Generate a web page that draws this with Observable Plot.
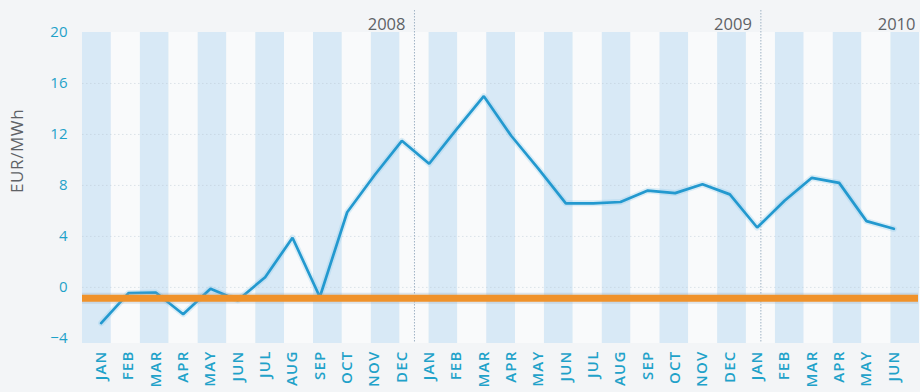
<!DOCTYPE html>
<html>
<head>
<meta charset="utf-8">
<script src="https://cdn.jsdelivr.net/npm/d3@7"></script>
<script src="https://cdn.jsdelivr.net/npm/@observablehq/plot@0.6"></script>
<style>
  html, body { margin: 0; padding: 0; background: #f3f5f7; }
  #chart { position: relative; width: 920px; height: 392px; overflow: hidden; background: #f3f5f7; font-family: "Open Sans", sans-serif; }
  #chart svg { position: absolute; left: 0; top: 0; }
  #chart g[aria-label="x-axis tick label"] text { letter-spacing: 1.2px; }
  #chart .ylab text { letter-spacing: 0.6px; }
</style>
</head>
<body>
<div id="chart"></div>
<script>
// ---- data ----
const months = ["JAN","FEB","MAR","APR","MAY","JUN","JUL","AUG","SEP","OCT","NOV","DEC",
                "JAN","FEB","MAR","APR","MAY","JUN","JUL","AUG","SEP","OCT","NOV","DEC",
                "JAN","FEB","MAR","APR","MAY","JUN"];
const values = [-2.8, -0.45, -0.4, -2.1, -0.1, -1.0, 0.8, 3.9, -0.75, 5.9, 8.8, 11.5,
                9.7, 12.4, 15.0, 11.9, 9.3, 6.6, 6.6, 6.7, 7.6, 7.4, 8.1, 7.3,
                4.7, 6.8, 8.6, 8.2, 5.2, 4.6];
const baseline = [-0.85];
const yTicks = [-4, 0, 4, 8, 12, 16, 20];
const yDomain = [-4.4, 20];
const yearLabels = ["2008", "2009"];
const yearEndIndex = [11, 23];
const lastYearLabel = ["2010"];
const yLabel = ["EUR/MWh"];

// ---- styles ----
const teal = "#1fa2c9";
const lineBlue = "#2399cf";
const orange = "#f0922a";
const grey = "#5e6266";
const blueBand = "#d8e9f6";
const paleBand = "#f9fafb";

const idx = months.map((_, i) => i);
const chart = document.getElementById("chart");

// Background bands, year separators and year labels
const bands = Plot.plot({
  width: 920, height: 392,
  marginLeft: 82, marginRight: 0, marginTop: 32, marginBottom: 49,
  x: {type: "band", domain: idx, range: [82, 948], padding: 0, round: false, axis: null},
  y: {domain: yDomain, axis: null},
  style: {background: "transparent", overflow: "visible", fontFamily: "Open Sans, sans-serif"},
  marks: [
    Plot.barY(idx.filter(i => i % 2 === 0), {x: d => d, y1: yDomain[0], y2: yDomain[1], fill: blueBand}),
    Plot.barY(idx.filter(i => i % 2 === 1), {x: d => d, y1: yDomain[0], y2: yDomain[1], fill: paleBand}),
    Plot.ruleY(yTicks.filter(t => t > -4 && t < 20), {stroke: "#b9c6d0", strokeOpacity: 0.45, strokeDasharray: "1.5,2.5"}),
    Plot.ruleX(yearEndIndex, {x: d => d, stroke: "#9fb2c4", strokeWidth: 1, strokeDasharray: "1.5,1.5", insetTop: -22}),
    Plot.text(yearLabels, {x: (d, i) => yearEndIndex[i], text: d => d, frameAnchor: "top", dy: -14, dx: -9, textAnchor: "end", fill: grey, fontSize: 16.5}),
    Plot.text(lastYearLabel, {frameAnchor: "top-right", text: d => d, dy: -14, dx: -5, textAnchor: "end", fill: grey, fontSize: 16.5})
  ]
});
chart.appendChild(bands);

// Axes, line and reference rule
const main = Plot.plot({
  width: 920, height: 392,
  marginLeft: 82, marginRight: 2, marginTop: 32, marginBottom: 49,
  x: {type: "point", domain: idx, range: [87, 907], round: false},
  y: {domain: yDomain},
  style: {background: "transparent", overflow: "visible", fontFamily: "Open Sans, sans-serif"},
  marks: [
    Plot.axisY(yTicks, {tickSize: 0, tickPadding: 15, fontSize: 15, fill: teal, label: null}),
    Plot.axisX(idx, {tickSize: 0, tickPadding: 7, tickRotate: -90, tickFormat: i => months[i], fontSize: 15, fontWeight: 600, fill: teal, label: null}),
    Plot.line(idx, {x: d => d, y: d => values[d], stroke: "#7cc3e6", strokeWidth: 6, strokeOpacity: 0.25}),
    Plot.line(idx, {x: d => d, y: d => values[d], stroke: lineBlue, strokeWidth: 2.7, strokeLinejoin: "miter"}),
    Plot.ruleY(baseline, {stroke: "#8fa3b5", strokeWidth: 11, strokeOpacity: 0.25}),
    Plot.ruleY(baseline, {stroke: orange, strokeWidth: 7}),
    Plot.text(yLabel, {frameAnchor: "left", text: d => d, dx: -65, dy: 5, rotate: -90, fill: grey, fontSize: 17, className: "ylab"})
  ]
});
chart.appendChild(main);
</script>
</body>
</html>
